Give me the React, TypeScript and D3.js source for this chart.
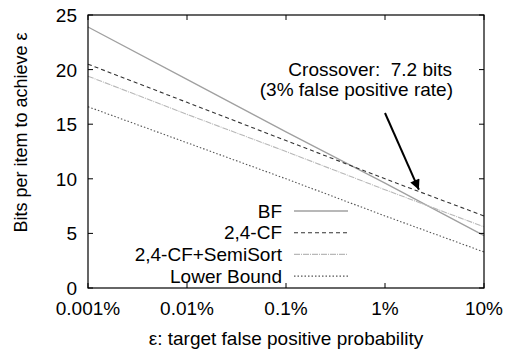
import React, { useEffect, useRef } from "react";
import * as d3 from "d3";

// target false positive rate (fraction), one point per decade
const epsilons = [0.00001, 0.0001, 0.001, 0.01, 0.1];
const tickLabels = ["0.001%", "0.01%", "0.1%", "1%", "10%"];

const bfBits = [23.9, 19.1, 14.3, 9.6, 4.8];
const cfBits = [20.5, 17.0, 13.5, 10.0, 6.6];
const semiSortBits = [19.4, 15.9, 12.5, 9.0, 5.6];
const lowerBoundBits = [16.6, 13.3, 10.0, 6.6, 3.3];

const seriesNames = ["BF", "2,4-CF", "2,4-CF+SemiSort", "Lower Bound"];
const seriesValues = [bfBits, cfBits, semiSortBits, lowerBoundBits];
const seriesColors = ["#a0a0a0", "#333333", "#b8b8b8", "#555555"];
const seriesDashes = ["", "4,3", "6,1,1,1", "1.5,2"];
const seriesWidths = [1.3, 1.1, 1.1, 1.1];

const yTicks = [0, 5, 10, 15, 20, 25];

export default function App() {
    const svgRef = useRef<SVGSVGElement | null>(null);

    useEffect(() => {
        if (!svgRef.current) return;
        const width = 505;
        const height = 354;
        const margin = { top: 15, right: 21, bottom: 66, left: 88 };
        const font = "Liberation Sans, Arial, Helvetica, sans-serif";
        const fs = 19;

        const svg = d3.select(svgRef.current);
        svg.selectAll("*").remove();
        svg.attr("width", width).attr("height", height);

        const x = d3.scaleLog()
            .domain([0.00001, 0.1])
            .range([margin.left, width - margin.right]);
        const y = d3.scaleLinear()
            .domain([0, 25])
            .range([height - margin.bottom, margin.top]);

        const x0 = margin.left, x1 = width - margin.right;
        const y0 = height - margin.bottom, y1 = margin.top;

        // series lines
        const line = d3.line<number>()
            .x((_, i) => x(epsilons[i]))
            .y(d => y(d));

        seriesValues.forEach((vals, i) => {
            svg.append("path")
                .datum(vals)
                .attr("d", line)
                .attr("fill", "none")
                .attr("stroke", seriesColors[i])
                .attr("stroke-width", seriesWidths[i])
                .attr("stroke-dasharray", seriesDashes[i] || null);
        });

        // frame
        svg.append("rect")
            .attr("x", x0).attr("y", y1)
            .attr("width", x1 - x0).attr("height", y0 - y1)
            .attr("fill", "none").attr("stroke", "#000").attr("stroke-width", 1.2);

        // ticks (inward, mirrored)
        epsilons.forEach((e, i) => {
            const px = x(e);
            svg.append("line").attr("x1", px).attr("x2", px).attr("y1", y0).attr("y2", y0 - 5)
                .attr("stroke", "#000");
            svg.append("line").attr("x1", px).attr("x2", px).attr("y1", y1).attr("y2", y1 + 5)
                .attr("stroke", "#000");
            svg.append("text")
                .attr("x", px).attr("y", y0 + 27)
                .attr("text-anchor", "middle")
                .attr("font-family", font).attr("font-size", fs)
                .attr("fill", "#000")
                .text(tickLabels[i]);
        });
        yTicks.forEach(t => {
            const py = y(t);
            svg.append("line").attr("x1", x0).attr("x2", x0 + 5).attr("y1", py).attr("y2", py)
                .attr("stroke", "#000");
            svg.append("line").attr("x1", x1).attr("x2", x1 - 5).attr("y1", py).attr("y2", py)
                .attr("stroke", "#000");
            svg.append("text")
                .attr("x", x0 - 11).attr("y", py + 7)
                .attr("text-anchor", "end")
                .attr("font-family", font).attr("font-size", fs)
                .attr("fill", "#000")
                .text(t);
        });

        // axis titles
        svg.append("text")
            .attr("x", (x0 + x1) / 2).attr("y", y0 + 57)
            .attr("text-anchor", "middle")
            .attr("font-family", font).attr("font-size", fs)
            .text("ε: target false positive probability");
        svg.append("text")
            .attr("transform", `translate(27, ${(y0 + y1) / 2 - 19}) rotate(-90)`)
            .attr("text-anchor", "middle")
            .attr("font-family", font).attr("font-size", 18)
            .text("Bits per item to achieve ε");

        // legend
        const legendRight = 282;
        seriesNames.forEach((name, i) => {
            const ly = 211 + i * 21.7;
            svg.append("text")
                .attr("x", legendRight).attr("y", ly + 6.5)
                .attr("text-anchor", "end")
                .attr("font-family", font).attr("font-size", fs)
                .text(name);
            svg.append("line")
                .attr("x1", 294).attr("x2", 348).attr("y1", ly).attr("y2", ly)
                .attr("stroke", seriesColors[i])
                .attr("stroke-width", seriesWidths[i])
                .attr("stroke-dasharray", seriesDashes[i] || null);
        });

        // annotation
        svg.append("text")
            .attr("x", 452).attr("y", 76)
            .attr("text-anchor", "end")
            .attr("font-family", font).attr("font-size", fs)
            .style("white-space", "pre")
            .text("Crossover:  7.2 bits");
        svg.append("text")
            .attr("x", 453).attr("y", 96)
            .attr("text-anchor", "end")
            .attr("font-family", font).attr("font-size", fs)
            .text("(3% false positive rate)");

        const defs = svg.append("defs");
        defs.append("marker")
            .attr("id", "arrow")
            .attr("viewBox", "0 0 10 10")
            .attr("refX", 10).attr("refY", 5)
            .attr("markerWidth", 6).attr("markerHeight", 5)
            .attr("markerUnits", "strokeWidth")
            .attr("orient", "auto")
            .append("path")
            .attr("d", "M0,0 L10,5 L0,10 Z")
            .attr("fill", "#000");

        svg.append("line")
            .attr("x1", x(0.01)).attr("y1", 113)
            .attr("x2", x(0.022)).attr("y2", y(9.0))
            .attr("stroke", "#000").attr("stroke-width", 2)
            .attr("marker-end", "url(#arrow)");
    }, []);

    return (
        <div>
            <svg ref={svgRef} style={{ position: "absolute", left: 0, top: 0, background: "#fff" }} />
        </div>
    );
}
